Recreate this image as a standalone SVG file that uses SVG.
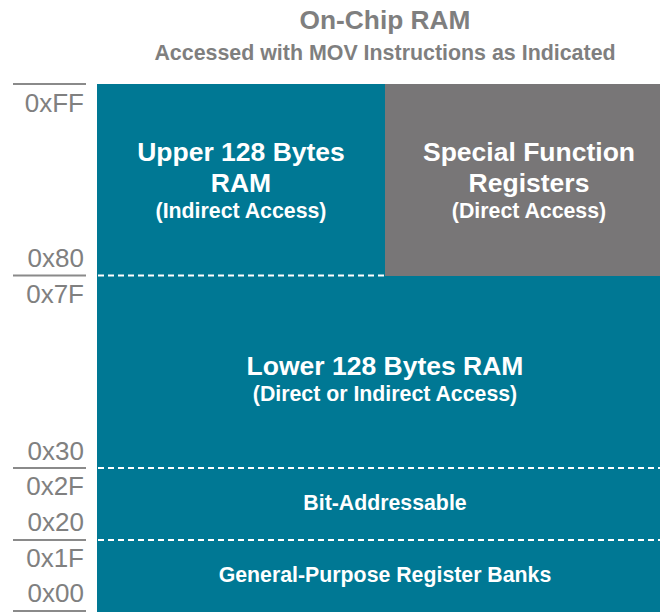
<svg xmlns="http://www.w3.org/2000/svg" width="660" height="612" viewBox="0 0 660 612">
<style>
.t{font-family:"Liberation Sans",Arial,sans-serif;font-weight:bold;text-anchor:middle;fill:#7f7f7f}
.w{font-family:"Liberation Sans",Arial,sans-serif;font-weight:bold;text-anchor:middle;fill:#ffffff}
.h{font-size:26.5px}
.s{font-size:21.3px}
.a{font-family:"Liberation Sans",Arial,sans-serif;font-size:26px;text-anchor:end;fill:#808080}
.tick{stroke:#8a8a8a;stroke-width:2}
.dash{stroke:#ffffff;stroke-width:2;stroke-dasharray:6 4}
</style>
<g id="title">
<text class="t" x="385" y="29" font-size="26.3">On-Chip RAM</text>
<text class="t" x="385" y="60" font-size="21.4">Accessed with MOV Instructions as Indicated</text>
</g>
<g id="ram">
<rect x="97" y="84" width="563" height="528" fill="#007894"/>
</g>
<g id="sfr">
<rect x="385" y="84" width="275" height="192" fill="#787677"/>
<text class="w h" x="529" y="161">Special Function</text>
<text class="w h" x="529" y="192">Registers</text>
<text class="w s" x="529" y="218">(Direct Access)</text>
</g>
<g id="upper">
<text class="w h" x="241" y="161">Upper 128 Bytes</text>
<text class="w h" x="241" y="192">RAM</text>
<text class="w s" x="241" y="218">(Indirect Access)</text>
</g>
<g id="lower">
<text class="w h" x="385" y="375">Lower 128 Bytes RAM</text>
<text class="w s" x="385" y="401">(Direct or Indirect Access)</text>
</g>
<g id="bitaddr">
<text class="w s" x="385" y="510">Bit-Addressable</text>
</g>
<g id="gprb">
<text class="w s" x="385" y="582">General-Purpose Register Banks</text>
</g>
<g id="connectors">
<line class="dash" x1="98" y1="275.5" x2="385" y2="275.5"/>
<line class="dash" x1="98" y1="468" x2="660" y2="468"/>
<line class="dash" x1="98" y1="540" x2="660" y2="540"/>
<line class="tick" x1="13" y1="84" x2="86" y2="84"/>
<line class="tick" x1="13" y1="275.5" x2="86" y2="275.5"/>
<line class="tick" x1="13" y1="468" x2="86" y2="468"/>
<line class="tick" x1="13" y1="540" x2="86" y2="540"/>
<line class="tick" x1="13" y1="611" x2="86" y2="611" stroke="#c0c0c0"/>
</g>
<g id="addresses">
<text class="a" x="84" y="112">0xFF</text>
<text class="a" x="84" y="267">0x80</text>
<text class="a" x="84" y="303">0x7F</text>
<text class="a" x="84" y="460">0x30</text>
<text class="a" x="84" y="495">0x2F</text>
<text class="a" x="84" y="531">0x20</text>
<text class="a" x="84" y="567">0x1F</text>
<text class="a" x="84" y="602">0x00</text>
</g>
</svg>
